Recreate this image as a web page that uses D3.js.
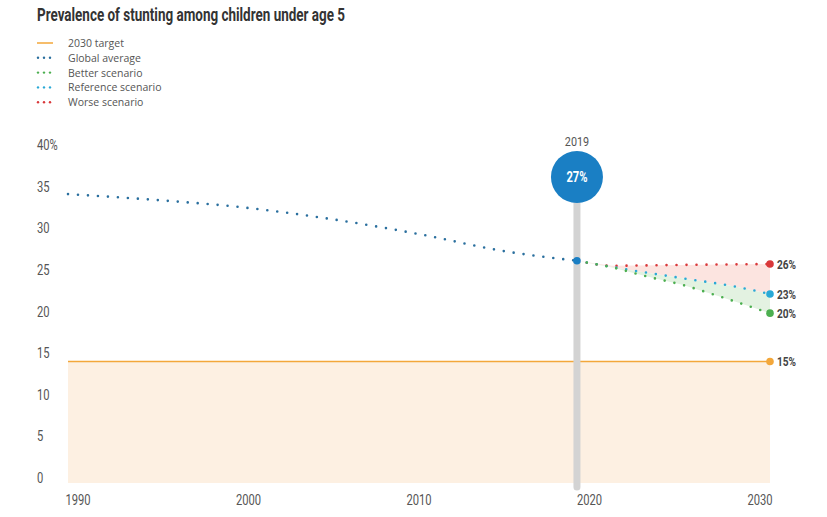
<!DOCTYPE html>
<html><head><meta charset="utf-8">
<script src="https://cdn.jsdelivr.net/npm/d3@7"></script>
<style>body{margin:0;background:#fff}svg{display:block}</style>
</head><body>
<svg id="chart" width="827" height="517"></svg>
<script>
// ---- data ----
const title = "Prevalence of stunting among children under age 5";
const legendLabels = ["2030 target", "Global average", "Better scenario", "Reference scenario", "Worse scenario"];
const globalYears = [1990, 1995, 2000, 2005, 2010, 2015, 2019];
const globalValues = [34.7, 34.0, 33.1, 31.7, 29.9, 27.8, 26.7];
const betterYears = [2019, 2021, 2023, 2025, 2027, 2029, 2030];
const betterValues = [26.7, 25.9, 24.8, 23.8, 22.5, 21.1, 20.4];
const referenceYears = [2019, 2022, 2025, 2028, 2030];
const referenceValues = [26.7, 25.6, 24.6, 23.6, 22.7];
const worseYears = [2019, 2021, 2025, 2030];
const worseValues = [26.7, 26.1, 26.2, 26.3];
const targetYears = [1990, 2030];
const targetValues = [14.6, 14.6];
const yTicks = [0, 5, 10, 15, 20, 25, 30, 35, 40];
const xTicks = [1990, 2000, 2010, 2020, 2030];
const highlightYear = 2019;
const highlightLabel = "27%";
const endLabels = { worse: "26%", reference: "23%", better: "20%", target: "15%" };

// ---- styles ----
const C = {
  target: "#f3a73a", targetFill: "#fdf0e2", global: "#2a6f9e", globalDot: "#1a7fc4",
  better: "#4caf50", reference: "#2aa9d6", worse: "#d9383a",
  worseFill: "#fce4e0", betterFill: "#e3f2e1", bar: "#d3d3d3", text: "#555"
};
const narrowFont = "Roboto,'Liberation Sans',sans-serif";

const svg = d3.select("#chart");
const x = d3.scaleLinear().domain([1990, 2030]).range([68, 770]);
const xLab = d3.scaleLinear().domain([1990, 2030]).range([78, 760]);
const y = d3.scaleLinear().domain([0, 40]).range([483, 150]);

// condensed-looking text helper
function ctext(px, py, txt, size, opts = {}) {
  const g = svg.append("g").attr("transform", `translate(${px},${py}) scale(${opts.sx || 0.8},1)`);
  return g.append("text").attr("x", 0).attr("y", 0).text(txt)
    .attr("font-family", narrowFont).attr("font-size", size)
    .attr("font-weight", opts.weight || "normal")
    .attr("text-anchor", opts.anchor || "start")
    .attr("fill", opts.fill || C.text);
}

const pts = (ys, vs) => ys.map((yr, i) => [yr, vs[i]]);
const line = d3.line().x(d => x(d[0])).y(d => y(d[1])).curve(d3.curveMonotoneX);
const lineLin = d3.line().x(d => x(d[0])).y(d => y(d[1]));

const G = pts(globalYears, globalValues), B = pts(betterYears, betterValues),
      R = pts(referenceYears, referenceValues), W = pts(worseYears, worseValues),
      T = pts(targetYears, targetValues);

// title
svg.append("text").attr("x", 37).attr("y", 21).text(title)
  .attr("font-family", narrowFont).attr("font-weight", "bold").attr("font-size", 17.5)
  .attr("fill", "#333").attr("textLength", 308).attr("lengthAdjust", "spacingAndGlyphs");

// legend
const legColors = [C.target, C.global, C.better, C.reference, C.worse];
legendLabels.forEach((lab, i) => {
  const ly = 43 + i * 14.8;
  const g = svg.append("g");
  if (i === 0) {
    g.append("line").attr("x1", 37).attr("x2", 53).attr("y1", ly).attr("y2", ly)
      .attr("stroke", legColors[i]).attr("stroke-width", 1.5);
  } else {
    [38, 44, 50].forEach(cx => g.append("circle").attr("cx", cx).attr("cy", ly).attr("r", 1.2).attr("fill", legColors[i]));
  }
  g.append("text").attr("x", 68).attr("y", ly + 4).text(lab)
    .attr("font-family", "'Open Sans',sans-serif").attr("font-size", 10.5).attr("fill", C.text);
});

// target fill
svg.append("path")
  .attr("d", d3.area().x(d => x(d[0])).y0(y(0)).y1(d => y(d[1]))(T))
  .attr("fill", C.targetFill);

// y tick labels
yTicks.forEach(d => ctext(37, y(d), d === 40 ? "40%" : String(d), 14));

// x tick labels
xTicks.forEach(d => ctext(xLab(d), 505, String(d), 14, { anchor: "middle" }));

// scenario fills
svg.append("path").attr("d", lineLin(W.concat(R.slice().reverse())) + "Z").attr("fill", C.worseFill);
svg.append("path").attr("d", lineLin(R.concat(B.slice().reverse())) + "Z").attr("fill", C.betterFill);

// target line
svg.append("path").attr("d", lineLin(T)).attr("stroke", C.target).attr("stroke-width", 1.6).attr("fill", "none");

// 2019 bar
const hx = x(highlightYear);
svg.append("line").attr("x1", hx).attr("x2", hx).attr("y1", 180).attr("y2", y(0) + 4)
  .attr("stroke", C.bar).attr("stroke-width", 7).attr("stroke-linecap", "round");

// dotted lines
const dotted = (data, color) => svg.append("path").attr("d", line(data))
  .attr("fill", "none").attr("stroke", color).attr("stroke-width", 2.6)
  .attr("stroke-linecap", "round").attr("stroke-dasharray", "0 10");
dotted(G, C.global);
dotted(W, C.worse);
dotted(R, C.reference);
dotted(B, C.better);

// end dots & labels
const ends = [
  [W[W.length - 1], C.worse, endLabels.worse],
  [R[R.length - 1], C.reference, endLabels.reference],
  [B[B.length - 1], C.better, endLabels.better],
  [T[T.length - 1], C.target, endLabels.target]
];
ends.forEach(([p, col, lab]) => {
  svg.append("circle").attr("cx", x(p[0])).attr("cy", y(p[1])).attr("r", 3.8).attr("fill", col);
  ctext(x(p[0]) + 7, y(p[1]) + 5, lab, 13, { weight: "bold", fill: "#444", sx: 0.78 });
});

// 2019 point
const gl = G[G.length - 1];
svg.append("circle").attr("cx", x(gl[0])).attr("cy", y(gl[1])).attr("r", 3.8).attr("fill", C.globalDot);

// highlight bubble
svg.append("circle").attr("cx", hx).attr("cy", 177).attr("r", 26).attr("fill", C.globalDot);
ctext(hx, 182, highlightLabel, 14, { anchor: "middle", weight: "bold", fill: "#fff" });
ctext(hx, 146, String(highlightYear), 13.5, { anchor: "middle" });
</script>
</body></html>
